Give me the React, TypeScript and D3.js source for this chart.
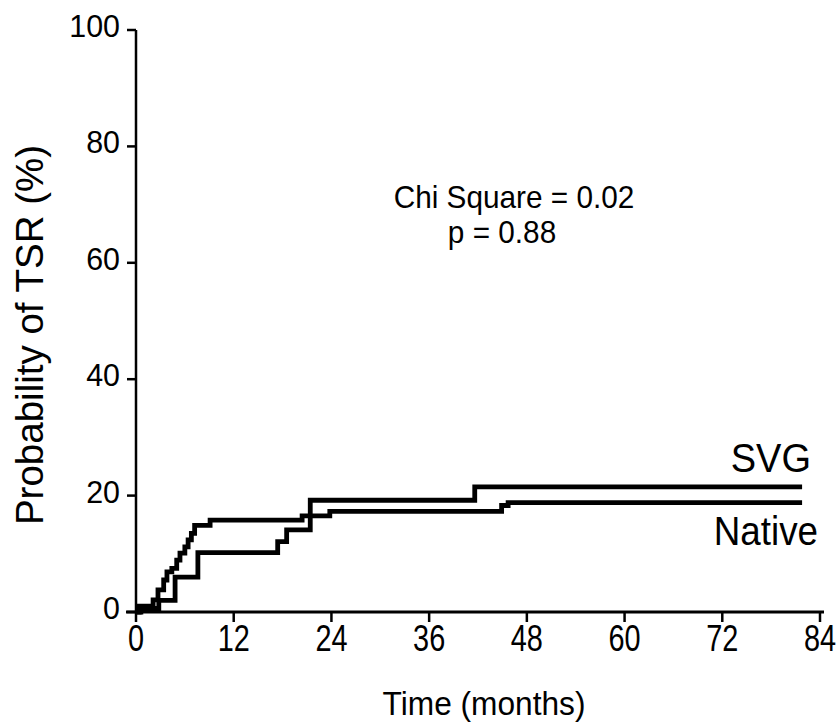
import React from 'react'
import { scaleLinear, line, curveStepAfter } from 'd3'

// Kaplan-Meier style step curves, [month, percent]
let svgCurve: [number, number][] = [
  [0, 0], [0.6, 0.6], [2.8, 2.0], [4.8, 6.0], [7.6, 10.2], [17.4, 12.1],
  [18.5, 14.1], [21.4, 19.2], [41.6, 21.5], [81.8, 21.5],
]
let nativeCurve: [number, number][] = [
  [0, 0], [0.4, 1.0], [2.1, 2.1], [2.7, 3.8], [3.4, 5.5], [3.8, 6.9], [4.4, 7.5],
  [5.0, 8.9], [5.4, 10.1], [6.0, 11.2], [6.4, 12.4], [6.8, 13.5], [7.2, 14.9],
  [9.1, 15.8], [20.4, 16.5], [23.8, 17.3], [44.9, 18.3], [45.7, 18.8], [81.8, 18.8],
]
let xTicks = [0, 12, 24, 36, 48, 60, 72, 84]
let yTicks = [0, 20, 40, 60, 80, 100]
let statLines = ['Chi Square = 0.02', 'p = 0.88']
let seriesLabels = ['SVG', 'Native']

let font = 'Liberation Sans, Arial, Helvetica, sans-serif'

let App = () => {
  let width = 836
  let height = 725

  let xScale = scaleLinear().domain([0, 84]).range([136, 820])
  let yScale = scaleLinear().domain([0, 100]).range([612, 30])

  let stepLine = line<[number, number]>()
    .x(d => xScale(d[0]))
    .y(d => yScale(d[1]))
    .curve(curveStepAfter)

  let y0 = yScale(0)
  let x0 = xScale(0)

  return (
    <svg width={width} height={height} style={{ position: 'absolute', left: 0, top: 0, background: '#fff' }}>
      {/* curves */}
      {[svgCurve, nativeCurve].map((c, i) => (
        <path key={i} d={stepLine(c) || ''} fill="none" stroke="#000" strokeWidth={4.8} strokeLinejoin="miter" />
      ))}

      {/* axes */}
      <line x1={x0} x2={x0} y1={yScale(100)} y2={y0} stroke="#000" strokeWidth={2.5} />
      <line x1={x0 - 10} x2={xScale(84) + 4} y1={y0} y2={y0} stroke="#000" strokeWidth={2.8} />

      {yTicks.map(t => (
        <g key={t}>
          <line x1={x0 - 9} x2={x0} y1={yScale(t)} y2={yScale(t)} stroke="#000" strokeWidth={2.5} />
          <text transform={`translate(120,${yScale(t) + 7}) scale(0.95,1)`} textAnchor="end" fontFamily={font} fontSize={32}>{t}</text>
        </g>
      ))}

      {xTicks.map(t => (
        <g key={t}>
          <line x1={xScale(t)} x2={xScale(t)} y1={y0} y2={y0 + 10} stroke="#000" strokeWidth={2.5} />
          <text transform={`translate(${xScale(t)},651) scale(0.78,1)`} textAnchor="middle" fontFamily={font} fontSize={37}>{t}</text>
        </g>
      ))}

      <text transform="translate(484,715) scale(0.96,1)" textAnchor="middle" fontFamily={font} fontSize={33}>Time (months)</text>
      <text transform="translate(43,335) rotate(-90)" textAnchor="middle" fontFamily={font} fontSize={38.5}>Probability of TSR (%)</text>

      <text transform="translate(514,208) scale(0.93,1)" textAnchor="middle" fontFamily={font} fontSize={32}>{statLines[0]}</text>
      <text transform="translate(502,243) scale(0.93,1)" textAnchor="middle" fontFamily={font} fontSize={32}>{statLines[1]}</text>

      <text transform="translate(811,472) scale(0.95,1)" textAnchor="end" fontFamily={font} fontSize={40}>{seriesLabels[0]}</text>
      <text transform="translate(818,545) scale(0.92,1)" textAnchor="end" fontFamily={font} fontSize={40}>{seriesLabels[1]}</text>
    </svg>
  )
}

export default App
